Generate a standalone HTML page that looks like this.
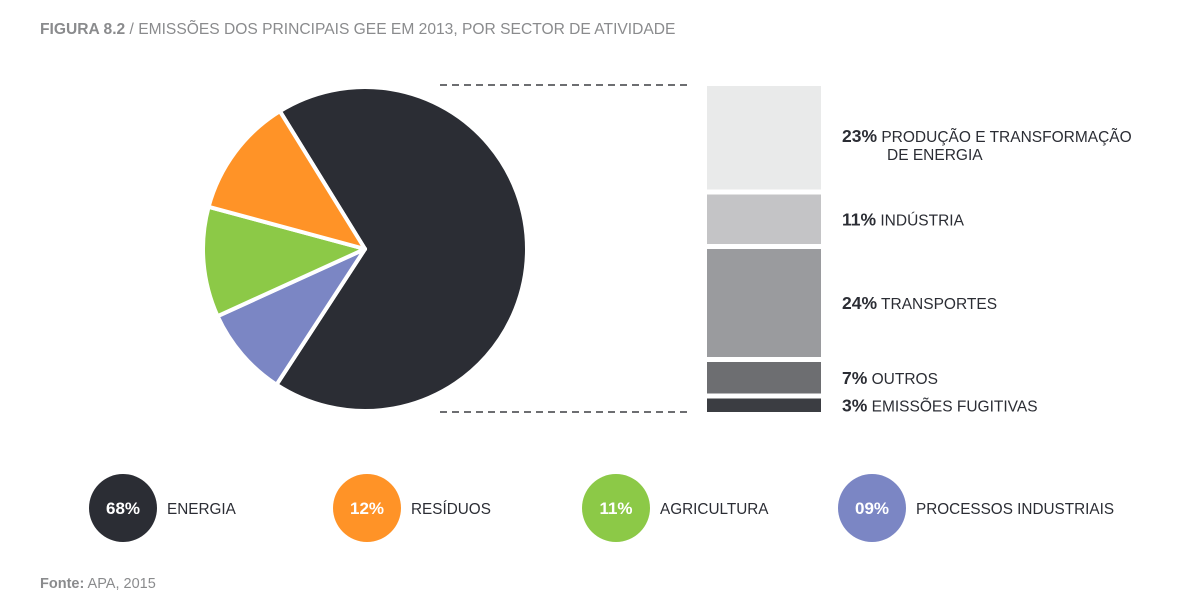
<!DOCTYPE html>
<html><head><meta charset="utf-8"><style>
body{margin:0;background:#fff;width:1191px;height:601px;overflow:hidden;font-family:"Liberation Sans",sans-serif}
svg text{font-family:"Liberation Sans",sans-serif}
</style></head><body>
<svg id="c" width="1191" height="601">
<text x="40" y="34" font-size="15.6" fill="#8a8b8d"><tspan font-weight="bold">FIGURA 8.2</tspan> / EMISSÕES DOS PRINCIPAIS GEE EM 2013, POR SECTOR DE ATIVIDADE</text>
<line x1="440" y1="85" x2="692" y2="85" stroke="#6d6e71" stroke-width="2" stroke-dasharray="7,5"/>
<line x1="440" y1="412" x2="692" y2="412" stroke="#6d6e71" stroke-width="2" stroke-dasharray="7,5"/>
<text x="40" y="588" font-size="14.5" fill="#8a8b8d"><tspan font-weight="bold">Fonte:</tspan> APA, 2015</text>
</svg>
<script>
const pieLabels=["Energia","Processos Industriais","Agricultura","Resíduos"];
const pieValues=[68,9,11,12];
const pieColors=["#2b2d34","#7b86c4","#8cc947","#ff9327"];
const barLabels=["PRODUÇÃO E TRANSFORMAÇÃO|DE ENERGIA","INDÚSTRIA","TRANSPORTES","OUTROS","EMISSÕES FUGITIVAS"];
const barValues=[23,11,24,7,3];
const barColors=["#e9eaea","#c4c4c6","#9a9b9e","#6d6e71","#3b3d42"];
const legendLabels=["ENERGIA","RESÍDUOS","AGRICULTURA","PROCESSOS INDUSTRIAIS"];
const legendValues=["68%","12%","11%","09%"];
const legendColors=["#2b2d34","#ff9327","#8cc947","#7b86c4"];
const svg=document.getElementById('c');const NS="http://www.w3.org/2000/svg";
function mk(t,a){const e=document.createElementNS(NS,t);for(const k in a)e.setAttribute(k,a[k]);svg.appendChild(e);return e;}
const cx=365,cy=249,R=162;let tot=pieValues.reduce((a,b)=>a+b,0);let ang=-31.7;
function pt(a,r){const rad=a*Math.PI/180;return [cx+r*Math.sin(rad),cy-r*Math.cos(rad)];}
pieValues.forEach((v,i)=>{const sweep=v/tot*360;const a0=ang,a1=ang+sweep;const p0=pt(a0,R),p1=pt(a1,R);
const p=mk('path',{d:`M${cx},${cy}L${p0[0]},${p0[1]}A${R},${R} 0 ${sweep>180?1:0} 1 ${p1[0]},${p1[1]}Z`,fill:pieColors[i],stroke:"#fff","stroke-width":4,"stroke-linejoin":"round"});


ang=a1;});
const bTop=86,bBot=412,gap=5;const bsum=barValues.reduce((a,b)=>a+b,0);const scale=(bBot-bTop-gap*(barValues.length-1))/bsum;
let y=bTop;
barValues.forEach((v,i)=>{const h=v*scale;
const r=mk('rect',{x:707,y:y,width:114,height:h,fill:barColors[i]});


const parts=barLabels[i].split('|');const ty=y+h/2+(parts.length>1?4:6);
const t=mk('text',{x:842,y:ty,"font-size":15.5,fill:"#2b2d34"});


t.innerHTML=`<tspan font-weight="bold" font-size="17.5">${v}%</tspan> ${parts[0]}`;
if(parts.length>1){const t2=mk('text',{x:887,y:ty+18,"font-size":15.5,fill:"#2b2d34"});t2.textContent=parts[1];

}
y+=h+gap;});
const lx=[123,367,616,872];
legendLabels.forEach((l,i)=>{
const c=mk('circle',{cx:lx[i],cy:508,r:34,fill:legendColors[i]});


const v=mk('text',{x:lx[i],y:514,"text-anchor":"middle","font-size":17,"font-weight":"bold",fill:"#fff"});v.textContent=legendValues[i];


const t=mk('text',{x:lx[i]+44,y:514,"font-size":15.3,fill:"#2b2d34"});t.textContent=l;


});
</script>
</body></html>
